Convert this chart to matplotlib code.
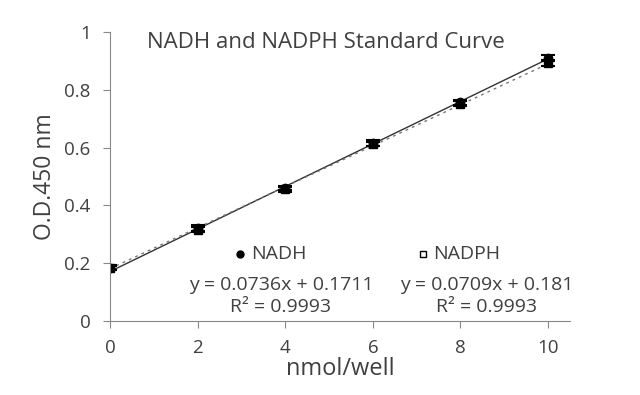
import matplotlib.pyplot as plt
import numpy as np

plt.rcParams['font.family'] = ['Open Sans', 'DejaVu Sans']

# Data
nmol = [0, 2, 4, 6, 8, 10]
nadh = [0.185, 0.322, 0.460, 0.615, 0.757, 0.910]
nadh_err = [0.008, 0.010, 0.008, 0.010, 0.008, 0.010]
nadph = [0.183, 0.316, 0.456, 0.612, 0.752, 0.893]
nadph_err = [0.008, 0.008, 0.008, 0.008, 0.008, 0.010]

# Trendline parameters shown on the chart
nadh_fit = (0.0736, 0.1711)
nadph_fit = (0.0709, 0.181)

gray = '#404040'
fig = plt.figure(figsize=(6.4, 3.95), dpi=100)
# axes: x 110..570 px, y 32..321 px
ax = fig.add_axes([110 / 640, 1 - 321 / 395, 460 / 640, 289 / 395])

xs = np.array([0, 10])
ax.plot(xs, nadh_fit[0] * xs + nadh_fit[1], color='#333333', lw=1.0)
ax.plot(xs, nadph_fit[0] * xs + nadph_fit[1], color='#777777', lw=1.0, ls=(0, (2, 3)))

ax.errorbar(nmol, nadh, yerr=nadh_err, fmt='o', color='black', ms=6,
            capsize=5, elinewidth=1.3, capthick=1.5)
ax.errorbar(nmol, nadph, yerr=nadph_err, fmt='s', color='black', mfc='black', ms=6,
            capsize=5, elinewidth=1.3, capthick=1.5)

ax.set_xlim(0, 10.5)
ax.set_ylim(0, 1)
ax.set_xticks([0, 2, 4, 6, 8, 10])
ax.set_yticks([0, 0.2, 0.4, 0.6, 0.8, 1])
ax.set_yticklabels(['0', '0.2', '0.4', '0.6', '0.8', '1'])
for s in ['top', 'right']:
    ax.spines[s].set_visible(False)
for s in ['left', 'bottom']:
    ax.spines[s].set_color('#888888')
ax.tick_params(colors='#888888', labelcolor=gray, labelsize=13.5, length=5)
ax.tick_params(axis='y', pad=9)
ax.tick_params(axis='x', pad=8)
ax.set_xlabel('nmol/well', fontsize=17, color=gray, labelpad=0)
ax.set_ylabel('O.D.450 nm', fontsize=16.5, color=gray, labelpad=5)

ax.text(0.47, 0.965, 'NADH and NADPH Standard Curve', transform=ax.transAxes,
        fontsize=16, color=gray, ha='center', va='center')

# Legend entries and equations
ax.plot([2.97], [0.233], 'o', color='black', ms=5)
ax.text(3.22, 0.233, 'NADH', fontsize=14, color=gray, va='center')
ax.plot([7.14], [0.233], 's', mfc='white', mec='black', ms=5)
ax.text(7.38, 0.233, 'NADPH', fontsize=14, color=gray, va='center')
ax.text(3.9, 0.125, 'y = 0.0736x + 0.1711', fontsize=14, color=gray,
        ha='center', va='center')
ax.text(3.9, 0.047, 'R² = 0.9993', fontsize=14, color=gray,
        ha='center', va='center')
ax.text(8.6, 0.125, 'y = 0.0709x + 0.181', fontsize=14, color=gray,
        ha='center', va='center')
ax.text(8.6, 0.047, 'R² = 0.9993', fontsize=14, color=gray,
        ha='center', va='center')

fig.savefig('out.png', dpi=100)
